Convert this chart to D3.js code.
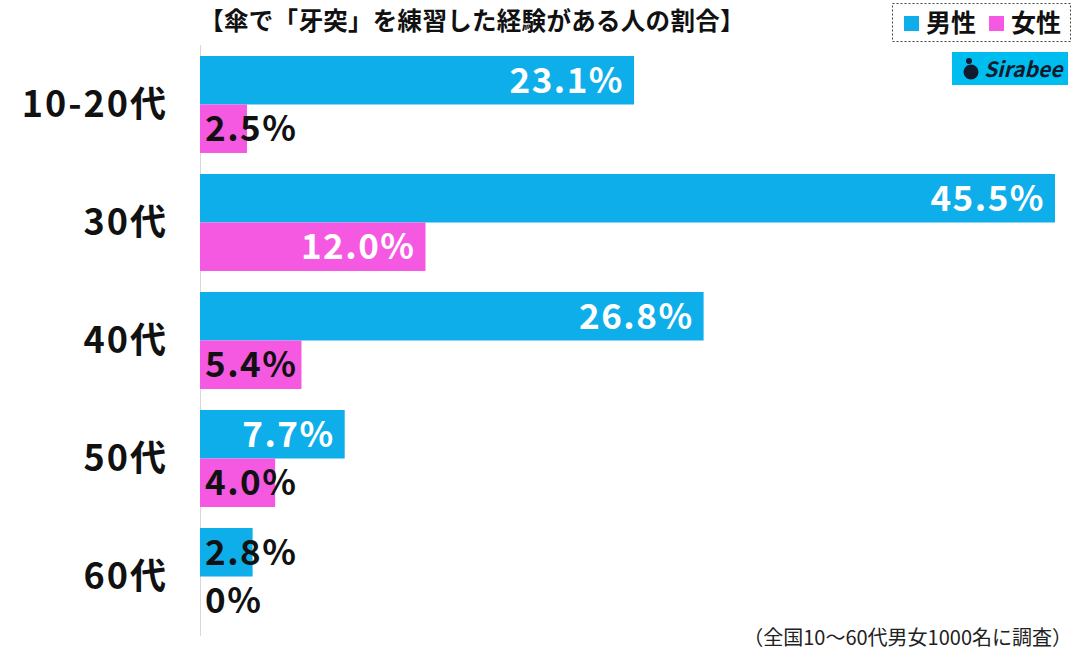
<!DOCTYPE html>
<html><head><meta charset="utf-8">
<script src="https://cdn.jsdelivr.net/npm/d3@7"></script>
<style>body{margin:0;background:#fff}svg{display:block}text{font-family:"Noto Sans CJK JP","Noto Sans",sans-serif}</style>
</head><body><svg id="c" width="1083" height="652"></svg>
<script>
const categories = ["10-20代","30代","40代","50代","60代"];
const series = ["男性","女性"];
const male = [23.1,45.5,26.8,7.7,2.8];
const female = [2.5,12.0,5.4,4.0,0];
const labelsMale = ["23.1%","45.5%","26.8%","7.7%","2.8%"];
const labelsFemale = ["2.5%","12.0%","5.4%","4.0%","0%"];
const title = "【傘で「牙突」を練習した経験がある人の割合】";
const note = "（全国10～60代男女1000名に調査）";
const colors = {"男性":"#0eaeea","女性":"#f559e1"};

const svg = d3.select("#c");
const x = d3.scaleLinear().domain([0,45.5]).range([200,1055]);
const y = d3.scaleBand().domain(categories).range([43,638]).paddingInner(0.178).paddingOuter(0.11);
const ys = d3.scaleBand().domain(series).range([0,y.bandwidth()]);

svg.append("line").attr("x1",200.5).attr("x2",200.5).attr("y1",45).attr("y2",636).attr("stroke","#d8d8d8").attr("stroke-width",1);

const data = [];
categories.forEach((c,i)=>{
  data.push({c,s:"男性",v:male[i],l:labelsMale[i]});
  data.push({c,s:"女性",v:female[i],l:labelsFemale[i]});
});
svg.selectAll("rect.bar").data(data).join("rect").attr("class","bar")
  .attr("x",x(0)).attr("y",d=>y(d.c)+ys(d.s)).attr("width",d=>x(d.v)-x(0)).attr("height",ys.bandwidth())
  .attr("fill",d=>colors[d.s]);
svg.selectAll("text.val").data(data).join("text").attr("class","val")
  .each(function(d){
    const inside = (x(d.v)-x(0))>120;
    d3.select(this).attr("x", inside? x(d.v)-10 : x(0)+5)
      .attr("text-anchor", inside?"end":"start")
      .attr("fill", inside?"#fff":"#111");
  })
  .attr("y",d=>y(d.c)+ys(d.s)+ys.bandwidth()/2)
  .attr("dy","0.36em").attr("font-size",35).attr("font-weight",700).attr("letter-spacing",1.5)
  .text(d=>d.l);

svg.selectAll("text.cat").data(categories).join("text").attr("class","cat")
  .attr("x",168).attr("y",d=>y(d)+y.bandwidth()/2).attr("dy","0.36em").attr("text-anchor","end")
  .attr("font-size",36).attr("font-weight",700).attr("letter-spacing",2).attr("fill","#111").text(d=>d);

svg.append("text").attr("x",472).attr("y",21).attr("dy","0.36em").attr("text-anchor","middle")
  .attr("font-size",24.5).attr("font-weight",700).attr("letter-spacing",0.3).attr("fill","#111").text(title);

const lg = svg.append("g");
lg.append("rect").attr("x",892.5).attr("y",3.5).attr("width",178).attr("height",38).attr("fill","none")
  .attr("stroke","#444").attr("stroke-dasharray","2,2").attr("stroke-width",1);
const lx = [904,989];
series.forEach((s,i)=>{
  lg.append("rect").attr("x",lx[i]).attr("y",16).attr("width",15).attr("height",15).attr("fill",colors[s]);
  lg.append("text").attr("x",lx[i]+22).attr("y",23).attr("dy","0.36em").attr("font-size",25).attr("font-weight",700).attr("fill","#111").text(s);
});

const lo = svg.append("g");
lo.append("rect").attr("x",952).attr("y",52).attr("width",116).attr("height",33).attr("fill","#00bdf0");
lo.append("circle").attr("cx",971).attr("cy",72).attr("r",7.5).attr("fill","#111a2e");
lo.append("circle").attr("cx",969).attr("cy",61).attr("r",3).attr("fill","#111a2e");
lo.append("text").attr("x",984).attr("y",69).attr("dy","0.36em").attr("font-size",21).attr("font-weight",700)
  .attr("font-style","italic").attr("fill","#111a2e").attr("font-family","Roboto").text("Sirabee");

svg.append("text").attr("x",1072).attr("y",638).attr("dy","0.36em").attr("text-anchor","end")
  .attr("font-size",20).attr("fill","#222").text(note);
</script></body></html>
